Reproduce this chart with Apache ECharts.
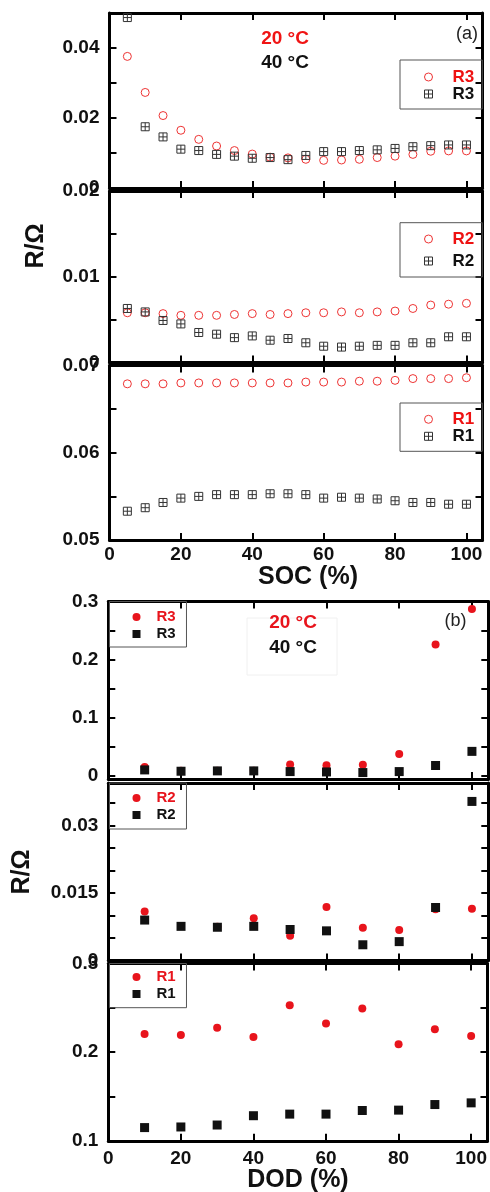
<!DOCTYPE html>
<html>
<head>
<meta charset="utf-8">
<script src="https://cdn.jsdelivr.net/npm/echarts@6/dist/echarts.min.js"></script>
<style>
  html, body { margin: 0; padding: 0; background: #fff; }
  #chart { width: 490px; height: 1192px; }
</style>
</head>
<body>
<div id="chart"></div>
<script>
// (a) resistance vs SOC
const socPct = [5, 10, 15, 20, 25, 30, 35, 40, 45, 50, 55, 60, 65, 70, 75, 80, 85, 90, 95, 100]
const socR3At20 = [0.0376, 0.0273, 0.0207, 0.0165, 0.0139, 0.0120, 0.0107, 0.0097, 0.0088, 0.0086, 0.0082, 0.0079, 0.0080, 0.0082, 0.0087, 0.0091, 0.0096, 0.0105, 0.0106, 0.0106]
const socR3At40 = [0.0487, 0.0175, 0.0146, 0.0111, 0.0107, 0.0096, 0.0091, 0.0085, 0.0087, 0.0081, 0.0093, 0.0104, 0.0104, 0.0107, 0.0109, 0.0113, 0.0118, 0.0121, 0.0123, 0.0123]
const socR2At20 = [0.0058, 0.0058, 0.0057, 0.0055, 0.0055, 0.0055, 0.0056, 0.0057, 0.0056, 0.0057, 0.0058, 0.0058, 0.0059, 0.0058, 0.0059, 0.0060, 0.0063, 0.0067, 0.0068, 0.0069]
const socR2At40 = [0.0063, 0.0059, 0.0049, 0.0045, 0.0035, 0.0033, 0.0029, 0.0031, 0.0026, 0.0028, 0.0023, 0.0019, 0.0018, 0.0019, 0.0020, 0.0020, 0.0023, 0.0023, 0.0030, 0.0030]
const socR1At20 = [0.0679, 0.0679, 0.0679, 0.0680, 0.0680, 0.0680, 0.0680, 0.0680, 0.0680, 0.0680, 0.0681, 0.0681, 0.0681, 0.0682, 0.0682, 0.0683, 0.0685, 0.0685, 0.0685, 0.0686]
const socR1At40 = [0.0533, 0.0537, 0.0543, 0.0548, 0.0550, 0.0552, 0.0552, 0.0552, 0.0553, 0.0553, 0.0552, 0.0548, 0.0549, 0.0548, 0.0547, 0.0545, 0.0543, 0.0543, 0.0541, 0.0541]

// (b) resistance vs DOD
const dodPct = [10, 20, 30, 40, 50, 60, 70, 80, 90, 100]
const dodR3At20 = [0.0145, 0.0080, 0.0080, 0.0080, 0.0186, 0.0174, 0.0180, 0.0366, 0.2256, 0.2870]
const dodR3At40 = [0.0093, 0.0070, 0.0076, 0.0076, 0.0064, 0.0058, 0.0047, 0.0064, 0.0169, 0.0413]
const dodR2At20 = [0.0109, 0.0077, 0.0075, 0.0094, 0.0055, 0.0119, 0.0073, 0.0068, 0.0114, 0.0115]
const dodR2At40 = [0.0090, 0.0076, 0.0074, 0.0076, 0.0069, 0.0066, 0.0035, 0.0042, 0.0118, 0.0354]
const dodR1At20 = [0.2204, 0.2193, 0.2275, 0.2171, 0.2528, 0.2323, 0.2491, 0.2089, 0.2257, 0.2182]
const dodR1At40 = [0.1149, 0.1156, 0.1178, 0.1283, 0.1301, 0.1301, 0.1342, 0.1346, 0.1409, 0.1428]

// tick labels
const xLabels = [0, 20, 40, 60, 80, 100]
const xTicks = [20, 40, 60, 80, 100]
const a3Labels = [0, 0.02, 0.04], a3Ticks = [0.01, 0.02, 0.03, 0.04]
const a2Labels = [0, 0.01, 0.02], a2Ticks = [0.005, 0.01, 0.015]
const a1Labels = [0.05, 0.06, 0.07], a1Ticks = [0.055, 0.06, 0.065]
const b3Labels = [0, 0.1, 0.2, 0.3], b3Ticks = [0, 0.05, 0.1, 0.15, 0.2, 0.25]
const b2Labels = [0, 0.015, 0.03], b2Ticks = [0.005, 0.01, 0.015, 0.02, 0.025, 0.03, 0.035]
const b1Labels = [0.1, 0.2, 0.3], b1Ticks = [0.15, 0.2, 0.25]

const FONT = '"Liberation Sans", Arial, sans-serif'
const RED = '#e8141c'
const BLACK = '#111'
const CROSS_SQ = 'path://M0,0H10V10H0Z M5,0V10 M0,5H10'
const SQ = 'path://M0,0H10V10H0Z'

const grids = [], xAxes = [], yAxes = [], series = [], legends = []

const line = { color: '#000', width: 3 }
const tick = { color: '#000', width: 2 }

/**
 * one stacked panel: grid + 4 framing axes + 2 scatter series + legend box
 */
function addPanel(p) {
  const gi = grids.length
  grids.push({ left: p.left, top: p.top, width: p.width, height: p.height })

  const xb = xAxes.length
  ;['bottom', 'top'].forEach(pos => {
    xAxes.push({
      gridIndex: gi, type: 'value', position: pos, min: 0, max: 104.5,
      axisLine: { onZero: false, lineStyle: line },
      axisTick: { inside: true, length: 7, lineStyle: tick, customValues: xTicks },
      axisLabel: {
        show: pos === 'bottom' && p.xLabels, customValues: xLabels, margin: p.xMargin,
        fontSize: 19, fontWeight: 'bold', color: '#111', fontFamily: FONT
      },
      splitLine: { show: false }
    })
  })

  const yb = yAxes.length
  ;['left', 'right'].forEach(pos => {
    yAxes.push({
      gridIndex: gi, type: 'value', position: pos, min: p.yMin, max: p.yMax,
      axisLine: { onZero: false, lineStyle: line },
      axisTick: { inside: true, length: 7, lineStyle: tick, customValues: p.yTicks },
      axisLabel: {
        show: pos === 'left', customValues: p.yLabels, margin: 10,
        fontSize: 19, fontWeight: 'bold', color: '#111', fontFamily: FONT,
        formatter: v => String(v)
      },
      splitLine: { show: false }
    })
  })

  // names must be unique per panel, the legend shows only the last part
  const n20 = p.id + '|20|' + p.name, n40 = p.id + '|40|' + p.name
  series.push({
    type: 'scatter', name: n20, xAxisIndex: xb, yAxisIndex: yb,
    data: p.x.map((x, i) => [x, p.r20[i]]),
    symbol: 'circle', symbolSize: 8,
    itemStyle: p.hollow
      ? { color: 'rgba(255,255,255,0)', borderColor: '#ee3333', borderWidth: 1, opacity: 1 }
      : { color: RED, opacity: 1 }
  })
  series.push({
    type: 'scatter', name: n40, xAxisIndex: xb, yAxisIndex: yb,
    data: p.x.map((x, i) => [x, p.r40[i]]),
    symbol: p.hollow ? CROSS_SQ : SQ, symbolSize: p.hollow ? 8 : 9,
    itemStyle: p.hollow
      ? { color: 'rgba(255,255,255,0)', borderColor: '#333', borderWidth: 1, opacity: 1 }
      : { color: BLACK, opacity: 1 }
  })

  const lg = p.legend
  legends.push({
    orient: 'vertical', left: lg.left, top: lg.top,
    padding: lg.padding, itemGap: lg.gap,
    itemWidth: lg.itemWidth, itemHeight: 8,
    borderColor: '#555', borderWidth: 1,
    selectedMode: false,
    itemStyle: p.hollow ? { borderWidth: 1 } : { borderWidth: 0 },
    formatter: n => n.split('|')[2],
    textStyle: { fontSize: lg.fontSize, fontWeight: 'bold', fontFamily: FONT, lineHeight: 17 },
    data: [
      { name: n20, textStyle: { color: p.hollow ? '#ee1111' : RED } },
      { name: n40, textStyle: { color: BLACK } }
    ]
  })
}

const legA = (top, padding, gap) => ({ left: 400, top, padding, gap, itemWidth: 38, fontSize: 17 })
const legB = (top, padding) => ({ left: 109.5, top, padding, gap: 0, itemWidth: 30, fontSize: 15 })

const A = { left: 109.5, width: 373, hollow: true, x: socPct, xMargin: 5 }
const B = { left: 108.3, width: 380, hollow: false, x: dodPct, xMargin: 8 }

addPanel({ ...A, id: 'a3', name: 'R3', top: 13, height: 175, yMin: 0, yMax: 0.05, yTicks: a3Ticks, yLabels: a3Labels,
  r20: socR3At20, r40: socR3At40, xLabels: false, legend: legA(60, [8.5, 8, 6.5, 24], 0) })
addPanel({ ...A, id: 'a2', name: 'R2', top: 191, height: 171.5, yMin: 0, yMax: 0.02, yTicks: a2Ticks, yLabels: a2Labels,
  r20: socR2At20, r40: socR2At40, xLabels: false, legend: legA(222.7, [7.8, 8, 7.5, 24], 5) })
addPanel({ ...A, id: 'a1', name: 'R1', top: 365.5, height: 174.5, yMin: 0.05, yMax: 0.07, yTicks: a1Ticks, yLabels: a1Labels,
  r20: socR1At20, r40: socR1At40, xLabels: true, legend: legA(403, [7.8, 8, 6.5, 24], 0) })

addPanel({ ...B, id: 'b3', name: 'R3', top: 601.5, height: 177.5, yMin: -0.0064, yMax: 0.3, yTicks: b3Ticks, yLabels: b3Labels,
  r20: dodR3At20, r40: dodR3At40, xLabels: false, legend: legB(601.5, [7, 10.8, 4.5, 23]) })
addPanel({ ...B, id: 'b2', name: 'R2', top: 783, height: 177.5, yMin: 0, yMax: 0.0395, yTicks: b2Ticks, yLabels: b2Labels,
  r20: dodR2At20, r40: dodR2At40, xLabels: false, legend: legB(783, [6.5, 10.8, 5.5, 23]) })
addPanel({ ...B, id: 'b1', name: 'R1', top: 963.5, height: 177.3, yMin: 0.1, yMax: 0.3, yTicks: b1Ticks, yLabels: b1Labels,
  r20: dodR1At20, r40: dodR1At40, xLabels: true, legend: legB(963.5, [5, 10.8, 5.2, 23]) })

const txt = (x, y, text, size, color, weight, rot) => ({
  type: 'text', x, y, rotation: rot || 0, z: 10,
  style: { text, fontSize: size, fontWeight: weight, fill: color, fontFamily: FONT, align: 'center', verticalAlign: 'middle' }
})

const graphic = [
  txt(285, 38.5, '20 °C', 19, '#f01414', 'bold'),
  txt(285, 63, '40 °C', 19, BLACK, 'bold'),
  txt(467, 34.5, '(a)', 18, '#222', 'normal'),
  txt(36, 246, 'R/Ω', 25, BLACK, 'bold', Math.PI / 2),
  txt(308, 577, 'SOC (%)', 25, BLACK, 'bold'),
  { type: 'rect', shape: { x: 247, y: 618, width: 90, height: 57 }, style: { fill: 'none', stroke: '#f0f0f0', lineWidth: 1 }, z: 1 },
  txt(293, 623, '20 °C', 19, RED, 'bold'),
  txt(293, 648, '40 °C', 19, BLACK, 'bold'),
  txt(455.5, 621, '(b)', 18, '#222', 'normal'),
  txt(22, 872, 'R/Ω', 25, BLACK, 'bold', Math.PI / 2),
  txt(298, 1180, 'DOD (%)', 25, BLACK, 'bold')
]

const chart = echarts.init(document.getElementById('chart'), null, { renderer: 'canvas' })
chart.setOption({
  animation: false,
  backgroundColor: '#fff',
  grid: grids,
  xAxis: xAxes,
  yAxis: yAxes,
  legend: legends,
  series,
  graphic
})
</script>
</body>
</html>
